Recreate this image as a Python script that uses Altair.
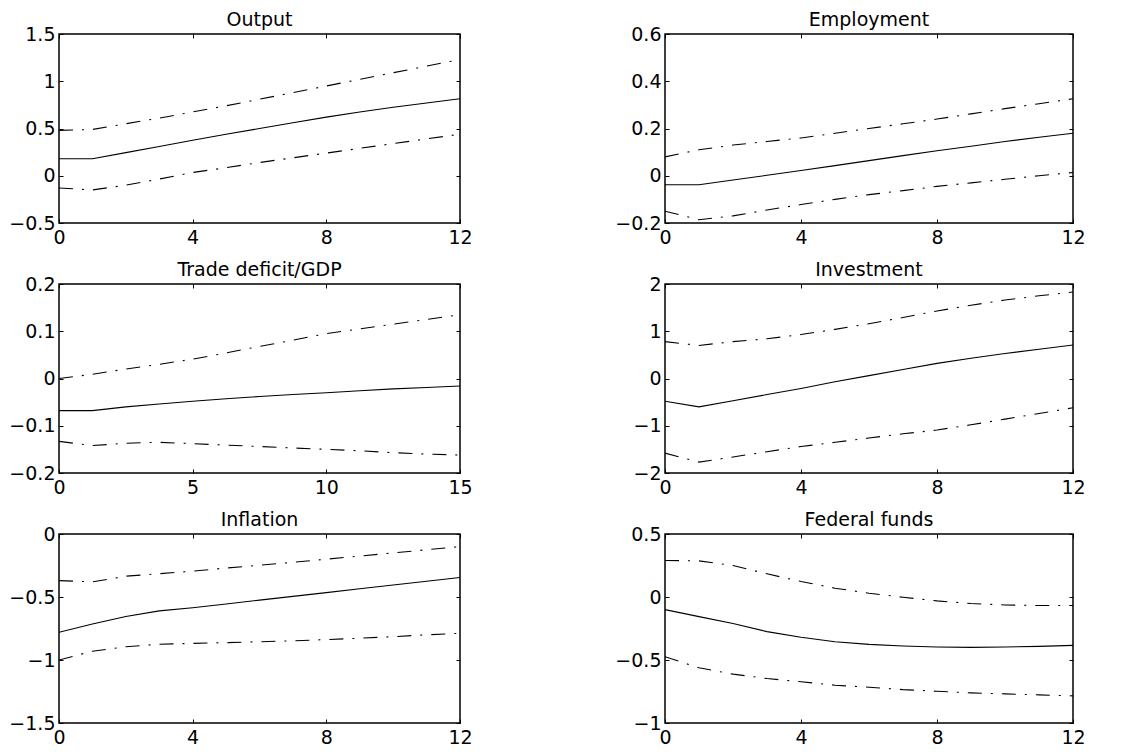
import altair as alt
import pandas as pd

# ---------------- data ----------------
x_q = [0, 1, 2, 3, 4, 5, 6, 7, 8, 9, 10, 11, 12]
x_trade = [0, 1.25, 2.5, 3.75, 5, 6.25, 7.5, 8.75, 10, 11.25, 12.5, 13.75, 15]

output_mid = [0.18, 0.18, 0.245, 0.31, 0.375, 0.44, 0.50, 0.56, 0.62, 0.675, 0.725, 0.77, 0.815]
output_hi = [0.48, 0.49, 0.55, 0.61, 0.675, 0.74, 0.81, 0.88, 0.95, 1.02, 1.09, 1.16, 1.23]
output_lo = [-0.13, -0.15, -0.10, -0.035, 0.035, 0.085, 0.14, 0.19, 0.24, 0.29, 0.34, 0.39, 0.44]

empl_mid = [-0.038, -0.038, -0.018, 0.002, 0.022, 0.043, 0.064, 0.085, 0.106, 0.125, 0.145, 0.163, 0.18]
empl_hi = [0.08, 0.11, 0.13, 0.145, 0.16, 0.18, 0.20, 0.22, 0.24, 0.262, 0.284, 0.305, 0.326]
empl_lo = [-0.15, -0.186, -0.17, -0.145, -0.122, -0.10, -0.08, -0.063, -0.045, -0.03, -0.015, 0.0, 0.014]

trade_mid = [-0.068, -0.068, -0.06, -0.054, -0.048, -0.043, -0.038, -0.034, -0.030, -0.026, -0.022, -0.019, -0.016]
trade_hi = [0.0, 0.009, 0.02, 0.03, 0.041, 0.054, 0.068, 0.081, 0.095, 0.105, 0.115, 0.125, 0.135]
trade_lo = [-0.133, -0.142, -0.137, -0.135, -0.138, -0.141, -0.144, -0.147, -0.150, -0.153, -0.157, -0.160, -0.162]

inv_mid = [-0.48, -0.60, -0.47, -0.34, -0.21, -0.07, 0.06, 0.19, 0.32, 0.43, 0.53, 0.62, 0.71]
inv_hi = [0.78, 0.70, 0.78, 0.84, 0.93, 1.04, 1.16, 1.29, 1.43, 1.55, 1.66, 1.75, 1.83]
inv_lo = [-1.58, -1.77, -1.66, -1.55, -1.44, -1.35, -1.26, -1.17, -1.09, -0.98, -0.86, -0.74, -0.62]

infl_mid = [-0.78, -0.715, -0.655, -0.61, -0.585, -0.555, -0.525, -0.495, -0.465, -0.435, -0.405, -0.375, -0.345]
infl_hi = [-0.37, -0.38, -0.335, -0.315, -0.295, -0.27, -0.248, -0.225, -0.20, -0.175, -0.15, -0.125, -0.10]
infl_lo = [-1.0, -0.93, -0.895, -0.875, -0.868, -0.862, -0.855, -0.848, -0.838, -0.827, -0.815, -0.80, -0.788]

fed_mid = [-0.10, -0.156, -0.21, -0.275, -0.32, -0.355, -0.376, -0.389, -0.397, -0.40, -0.397, -0.392, -0.384]
fed_hi = [0.29, 0.287, 0.25, 0.184, 0.123, 0.07, 0.03, -0.002, -0.031, -0.052, -0.063, -0.068, -0.068]
fed_lo = [-0.474, -0.562, -0.612, -0.647, -0.673, -0.70, -0.716, -0.735, -0.748, -0.761, -0.769, -0.777, -0.785]

titles = ["Output", "Employment", "Trade deficit/GDP", "Investment", "Inflation", "Federal funds"]
x_ticks_q = [0, 4, 8, 12]
x_ticks_trade = [0, 5, 10, 15]
y_ticks = [
    [-0.5, 0, 0.5, 1, 1.5],
    [-0.2, 0, 0.2, 0.4, 0.6],
    [-0.2, -0.1, 0, 0.1, 0.2],
    [-2, -1, 0, 1, 2],
    [-1.5, -1, -0.5, 0],
    [-1, -0.5, 0, 0.5],
]

FONT = "DejaVu Sans"
FS = 19
TICK = 4
H = 189
W_LEFT = 401
W_RIGHT = 408
DASHDOT = [14, 9, 2, 9]


def panel(title, xs, mid, hi, lo, xticks, yticks, width):
    df_mid = pd.DataFrame({"x": xs, "y": mid})
    df_band = pd.concat([
        pd.DataFrame({"x": xs, "y": hi, "s": "upper"}),
        pd.DataFrame({"x": xs, "y": lo, "s": "lower"}),
    ])
    xscale = alt.Scale(domain=[xticks[0], xticks[-1]], nice=False, zero=False)
    yscale = alt.Scale(domain=[yticks[0], yticks[-1]], nice=False, zero=False)
    xaxis = alt.Axis(
        values=xticks, title=None, domain=False, ticks=False, grid=True,
        gridColor="black", gridOpacity=1, gridWidth=1,
        gridDash=[TICK, H - 2 * TICK, TICK, 4000],
        labelFont=FONT, labelFontSize=FS, labelColor="black",
        labelPadding=5, labelFlush=False, labelOverlap=False, format="~g",
    )
    yaxis = alt.Axis(
        values=yticks, title=None, domain=False, ticks=False, grid=True,
        gridColor="black", gridOpacity=1, gridWidth=1,
        gridDash=[TICK, width - 2 * TICK, TICK, 4000],
        labelFont=FONT, labelFontSize=FS, labelColor="black",
        labelPadding=4, labelFlush=False, labelOverlap=False, format="~g",
    )
    mid_line = alt.Chart(df_mid).mark_line(color="black", strokeWidth=1.1, clip=True).encode(
        x=alt.X("x:Q", scale=xscale, axis=xaxis),
        y=alt.Y("y:Q", scale=yscale, axis=yaxis),
    )
    band = alt.Chart(df_band).mark_line(color="black", strokeWidth=1.1, strokeDash=DASHDOT, clip=True).encode(
        x=alt.X("x:Q", scale=xscale, axis=xaxis),
        y=alt.Y("y:Q", scale=yscale, axis=yaxis),
        detail="s:N",
    )
    return alt.layer(mid_line, band).properties(
        width=width, height=H,
        title=alt.TitleParams(title, font=FONT, fontSize=FS, fontWeight="normal",
                              color="black", offset=-5, anchor="middle"),
    )


p = [
    panel(titles[0], x_q, output_mid, output_hi, output_lo, x_ticks_q, y_ticks[0], W_LEFT),
    panel(titles[1], x_q, empl_mid, empl_hi, empl_lo, x_ticks_q, y_ticks[1], W_RIGHT),
    panel(titles[2], x_trade, trade_mid, trade_hi, trade_lo, x_ticks_trade, y_ticks[2], W_LEFT),
    panel(titles[3], x_q, inv_mid, inv_hi, inv_lo, x_ticks_q, y_ticks[3], W_RIGHT),
    panel(titles[4], x_q, infl_mid, infl_hi, infl_lo, x_ticks_q, y_ticks[4], W_LEFT),
    panel(titles[5], x_q, fed_mid, fed_hi, fed_lo, x_ticks_q, y_ticks[5], W_RIGHT),
]

chart = alt.concat(*p, columns=2, spacing=alt.RowColnumber(row=61, column=205), bounds="flush").properties(
    padding={"left": 0, "top": 2, "right": 0, "bottom": 0}
).configure(
    background="white",
    view=alt.ViewConfig(stroke="black", strokeWidth=1.5),
)

chart.save("out.html", embed_options={"renderer": "svg", "actions": False})
